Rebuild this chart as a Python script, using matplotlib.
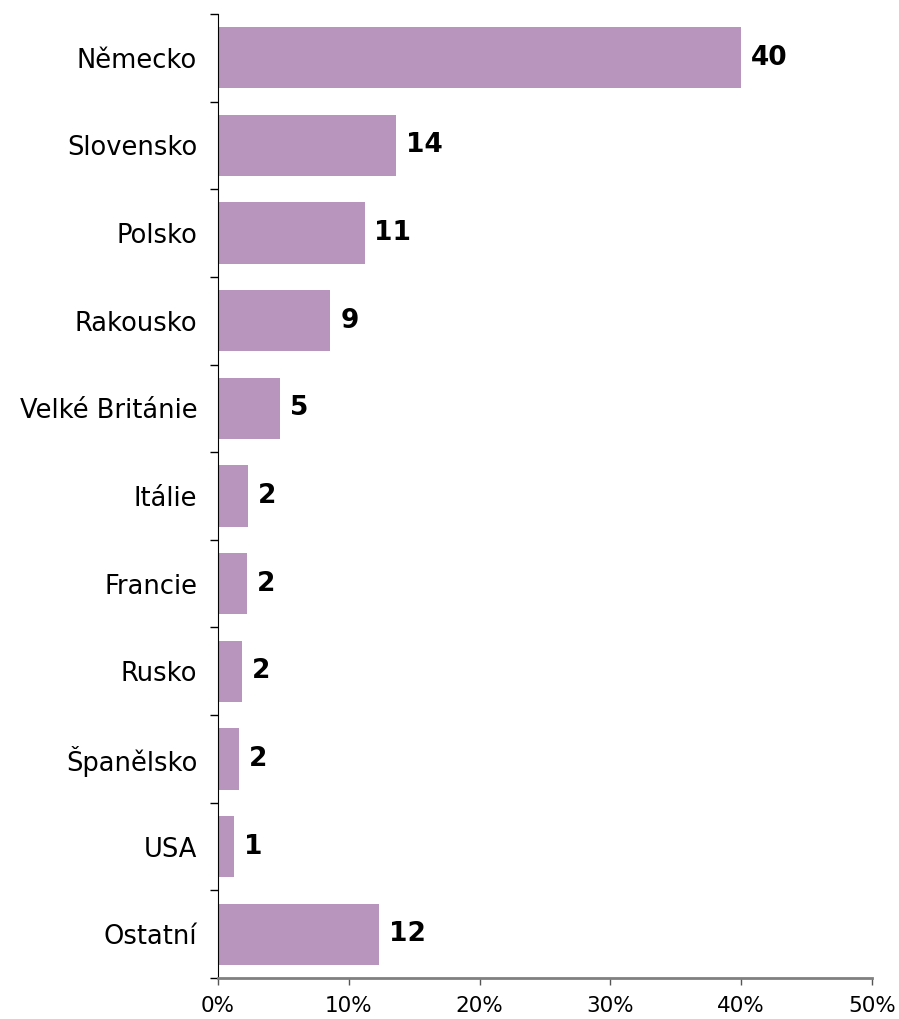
import numpy as np
import matplotlib.pyplot as plt
from matplotlib.ticker import FuncFormatter

countries = ['Německo', 'Slovensko', 'Polsko', 'Rakousko', 'Velké Británie',
             'Itálie', 'Francie', 'Rusko', 'Španělsko', 'USA', 'Ostatní']
shares = [40.0, 13.6, 11.2, 8.6, 4.75, 2.3, 2.25, 1.85, 1.6, 1.2, 12.3]
labels = ['40', '14', '11', '9', '5', '2', '2', '2', '2', '1', '12']


def plot_bars():
    fig = plt.figure(figsize=(8.99, 10.19), dpi=100)
    ax = fig.add_axes([0.2425, 0.0402, 0.7275, 0.9461])
    y = np.arange(len(countries))
    ax.barh(y, shares, height=0.7, color='#b895bd', linewidth=0)
    for yi, v, t in zip(y, shares, labels):
        ax.text(v + 0.75, yi, t, va='center', ha='left',
                fontsize=19, fontweight='bold')

    ax.set_ylim(len(countries) - 0.5, -0.5)
    ax.set_xlim(0, 50)
    ax.set_yticks(y)
    ax.set_yticklabels(countries, fontsize=18.5)
    ax.set_yticks(np.arange(len(countries) + 1) - 0.5, minor=True)
    ax.tick_params(axis='y', which='major', length=0, pad=15)
    ax.tick_params(axis='y', which='minor', length=6, width=1, direction='out')
    ax.set_xticks(np.arange(0, 51, 10))
    ax.xaxis.set_major_formatter(FuncFormatter(lambda v, p: '%d%%' % v))
    ax.tick_params(axis='x', length=5, width=1, color='#555555',
                   labelsize=15.5, pad=8, direction='out')

    ax.spines['top'].set_visible(False)
    ax.spines['right'].set_visible(False)
    ax.spines['left'].set_color('black')
    ax.spines['bottom'].set_color('#808080')
    ax.spines['bottom'].set_linewidth(2)
    fig.savefig('out.png', dpi=100)


if __name__ == "__main__":
    plot_bars()
